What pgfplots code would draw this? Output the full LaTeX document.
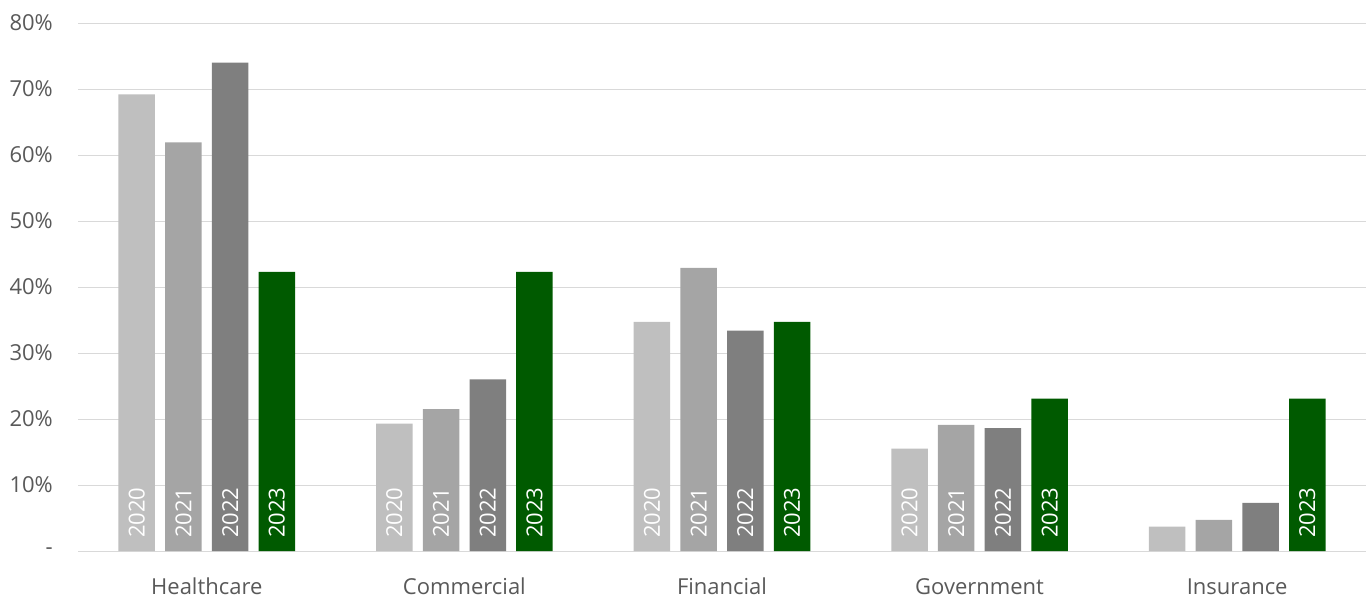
\documentclass[border=0pt]{standalone}
\usepackage{pgfplots}
\pgfplotsset{compat=1.18}
\usepackage{fontspec}
\setmainfont{Open Sans}
\definecolor{c20}{HTML}{BFBFBF}
\definecolor{c21}{HTML}{A5A5A5}
\definecolor{c22}{HTML}{7F7F7F}
\definecolor{c23}{HTML}{005A00}
\definecolor{txt}{HTML}{595959}
\definecolor{grd}{HTML}{D9D9D9}
\begin{document}
\begin{tikzpicture}
\path[use as bounding box] (0,0) rectangle (1366pt,598pt);
\begin{axis}[
 at={(78pt,47pt)}, anchor=south west,
 scale only axis, width=1288pt, height=528pt,
 xmin=-0.5, xmax=4.5, ymin=0, ymax=80,
 ybar, bar width=0.1417,
 axis line style={draw=none},
 ymajorgrids, grid style={grd, line width=1pt},
 major tick length=0,
 xtick={0,1,2,3,4},
 xticklabels={Healthcare,Commercial,Financial,Government,Insurance},
 ytick={0,10,20,30,40,50,60,70,80},
 yticklabels={-\hspace{8pt},10\%,20\%,30\%,40\%,50\%,60\%,70\%,80\%},
 tick label style={font=\fontsize{22}{26}\selectfont, text=txt, inner sep=0pt},
 xticklabel style={anchor=base, yshift=-43pt},
 yticklabel style={anchor=east, xshift=-25pt},
 clip=false,
 lbl/.style={draw=none, fill=none, nodes near coords={#1},
   nodes near coords style={font=\fontsize{22}{26}\selectfont, text=white, inner sep=0pt, anchor=west, yshift=13pt, rotate=90}},
]
\addplot[fill=c20, draw=none, bar shift=-0.272] coordinates {(0,69.2) (1,19.3) (2,34.7) (3,15.5) (4,3.7)};
\addplot[fill=c21, draw=none, bar shift=-0.0907] coordinates {(0,61.9) (1,21.5) (2,42.9) (3,19.1) (4,4.7)};
\addplot[fill=c22, draw=none, bar shift=0.0907] coordinates {(0,74.0) (1,26.0) (2,33.4) (3,18.6) (4,7.3)};
\addplot[fill=c23, draw=none, bar shift=0.272] coordinates {(0,42.3) (1,42.3) (2,34.7) (3,23.1) (4,23.1)};
\addplot[lbl=2020, bar shift=-0.272] coordinates {(0,0) (1,0) (2,0) (3,0)};
\addplot[lbl=2021, bar shift=-0.0907] coordinates {(0,0) (1,0) (2,0) (3,0)};
\addplot[lbl=2022, bar shift=0.0907] coordinates {(0,0) (1,0) (2,0) (3,0)};
\addplot[lbl=2023, bar shift=0.272] coordinates {(0,0) (1,0) (2,0) (3,0) (4,0)};
\end{axis}
\end{tikzpicture}
\end{document}
